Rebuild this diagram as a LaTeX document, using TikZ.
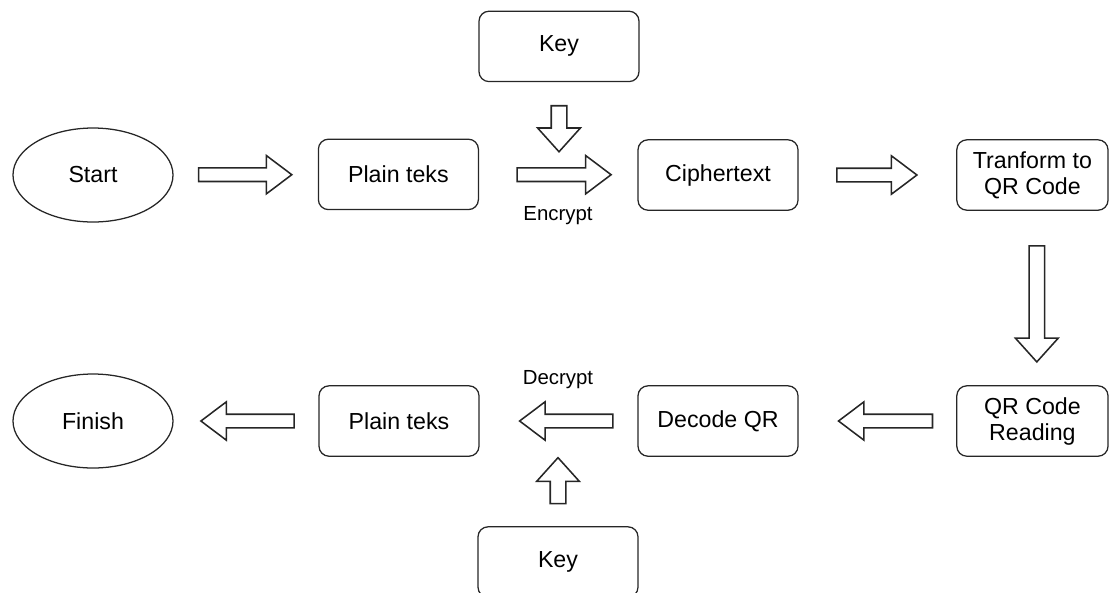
\documentclass[tikz,border=0pt]{standalone}
\usepackage{fontspec}
\setmainfont{Liberation Sans}
\usetikzlibrary{shapes.geometric,shapes.arrows,calc}

\begin{document}
\begin{tikzpicture}[
  box/.style={draw=black!85, rounded corners=0.25cm, minimum width=4cm, minimum height=1.76cm,
    align=center, line width=0.9pt, font=\fontsize{16.5}{18.5}\selectfont},
  oval/.style={draw=black!85, ellipse, minimum width=4cm, minimum height=2.35cm,
    line width=0.9pt, font=\fontsize{16.5}{18.5}\selectfont},
  harrow/.style={draw=black!85, single arrow, single arrow head extend=0.31cm,
    single arrow tip angle=74, minimum width=0.92cm, inner sep=0.15cm, line width=1.1pt},
  varrow/.style={draw=black!85, single arrow, single arrow head extend=0.34cm,
    single arrow tip angle=84, minimum width=1.05cm, inner sep=0.175cm, line width=1.1pt},
  lbl/.style={font=\fontsize{14.5}{16}\selectfont}]
  \useasboundingbox (0,0) rectangle (27.75,-14.8);
  % top row: encryption
  \node[oval] (start) at (2.325,-4.375) {Start};
  \node[box] (plainenc) at (9.96,-4.36) {Plain teks};
  \node[box] (keyenc) at (13.975,-1.16) {Key};
  \node[box] (cipher) at (17.95,-4.375) {Ciphertext};
  \node[box, minimum width=3.78cm] (toqr) at (25.81,-4.375) {Tranform to\\QR Code};
  % bottom row: decryption
  \node[oval] (finish) at (2.325,-10.525) {Finish};
  \node[box] (plaindec) at (9.975,-10.525) {Plain teks};
  \node[box] (decodeqr) at (17.95,-10.525) {Decode QR};
  \node[box, minimum width=3.78cm] (readqr) at (25.81,-10.525) {QR Code\\Reading};
  \node[box] (keydec) at (13.95,-14.05) {Key};
  % block arrows (node centre sits in the shaft, hence the small shifts)
  \node[harrow, minimum height=2.33cm] (a1) at ($(start.east)!0.5!(plainenc.west)+(-0.125,0)$) {};
  \node[harrow, minimum height=2.35cm] (encrypt) at ($(plainenc.east)!0.5!(cipher.west)+(0.035,0)$) {};
  \node[harrow, minimum height=2cm] (a3) at ($(cipher.east)!0.5!(toqr.west)+(-0.125,0)$) {};
  \node[varrow, minimum height=1.15cm, shape border rotate=270] (kin) at ($(keyenc.south)+(0,-1.055)$) {};
  \node[varrow, minimum height=2.9cm, shape border rotate=270] (a4) at ($(toqr.south)!0.5!(readqr.north)+(0.11,-0.04)$) {};
  \node[harrow, minimum height=2.35cm, shape border rotate=180] (a5) at ($(decodeqr.east)!0.5!(readqr.west)+(0.315,0)$) {};
  \node[harrow, minimum height=2.33cm, shape border rotate=180] (decrypt) at ($(plaindec.east)!0.5!(decodeqr.west)+(0.305,0)$) {};
  \node[varrow, minimum height=1.15cm, shape border rotate=90] (kout) at ($(keydec.north)+(0,1.03)$) {};
  \node[harrow, minimum height=2.33cm, shape border rotate=180] (a6) at ($(finish.east)!0.5!(plaindec.west)+(0.15,0)$) {};
  \node[lbl] (enclbl) at (13.95,-5.4) {Encrypt};
  \node[lbl] (declbl) at (13.95,-9.5) {Decrypt};
\end{tikzpicture}
\end{document}
